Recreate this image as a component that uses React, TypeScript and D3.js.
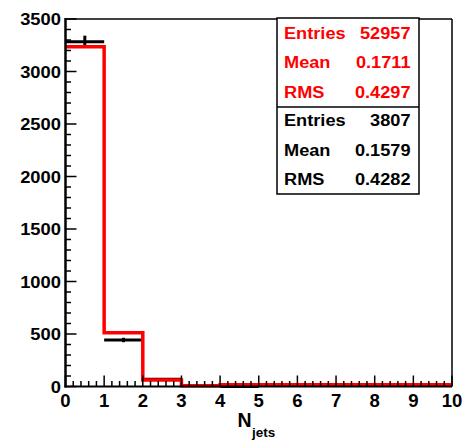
import React from "react";
import * as d3 from "d3";

const binEdges = [0, 1, 2, 3, 4, 5, 6, 7, 8, 9, 10];
const mcValues = [3236, 512, 62, 6, 0, 0, 0, 0, 0, 0];
const dataValues = [3284, 443, 70, 9, 1, 0, 0, 0, 0, 0];
const yTicks = [0, 500, 1000, 1500, 2000, 2500, 3000, 3500];
const xTicks = [0, 1, 2, 3, 4, 5, 6, 7, 8, 9, 10];
const statsRed = [["Entries", "52957"], ["Mean", "0.1711"], ["RMS", "0.4297"]];
const statsBlack = [["Entries", "3807"], ["Mean", "0.1579"], ["RMS", "0.4282"]];

const W = 462, H = 441;
const left = 65.5, right = 452, top = 19, bottom = 386.5;
const FONT = "'Liberation Sans', Arial, Helvetica, sans-serif";

function T(props: { x: number; y: number; anchor?: string; size: number; sx?: number; fill?: string; children: React.ReactNode }) {
  const { x, y, anchor = "start", size, sx = 1, fill = "black", children } = props;
  return (
    <text transform={`translate(${x},${y}) scale(${sx},1)`} textAnchor={anchor} fontFamily={FONT} fontWeight="bold" fontSize={size} fill={fill}>
      {children}
    </text>
  );
}

export default function App() {
  const x = d3.scaleLinear().domain([0, 10]).range([left, right]);
  const y = d3.scaleLinear().domain([0, 3500]).range([bottom, top]);
  const yh = (v: number) => (v === 0 ? y(0) - 1.8 : y(v));

  // step path for MC histogram
  const pts: [number, number][] = [];
  mcValues.forEach((v, i) => {
    pts.push([x(binEdges[i]), yh(v)]);
    pts.push([x(binEdges[i + 1]), yh(v)]);
  });
  const stepPath = d3.line()(pts) as string;

  const xMinor = d3.range(0, 10.001, 0.2);
  const yMinor = d3.range(0, 3500.1, 100);

  return (
    <svg width={W} height={H} style={{ position: "absolute", left: 0, top: 0, background: "white" }}>
      <rect x={0} y={0} width={W} height={H} fill="white" />
      {/* frame */}
      <line x1={left} y1={top} x2={right} y2={top} stroke="black" strokeWidth={1.5} />
      <line x1={right} y1={top} x2={right} y2={bottom} stroke="black" strokeWidth={1.5} />
      {/* data points */}
      {dataValues.map((v, i) => {
        if (v <= 0) return null;
        const cx = (x(binEdges[i]) + x(binEdges[i + 1])) / 2;
        const err = Math.sqrt(v);
        return (
          <g key={"d" + i}>
            <line x1={x(binEdges[i])} x2={x(binEdges[i + 1])} y1={y(v)} y2={y(v)} stroke="black" strokeWidth={3} />
            <line x1={cx} x2={cx} y1={y(v + err)} y2={y(v - err)} stroke="black" strokeWidth={3} />
          </g>
        );
      })}
      {/* MC histogram */}
      <path d={stepPath} fill="none" stroke="#ff0000" strokeWidth={3.5} strokeLinejoin="miter" />
      {/* y axis ticks */}
      {yMinor.map((v, i) => {
        const major = Math.round(v) % 500 === 0;
        return <line key={"ym" + i} x1={left} x2={left + (major ? 11 : 5.5)} y1={y(v)} y2={y(v)} stroke="black" strokeWidth={1.5} />;
      })}
      {yTicks.map((v) => (
        <T key={"yl" + v} x={61} y={y(v) + 6} anchor="end" size={17} sx={1.08}>{v}</T>
      ))}
      {/* x axis ticks */}
      {xMinor.map((v, i) => {
        const major = Math.abs(v - Math.round(v)) < 1e-6;
        return <line key={"xm" + i} x1={x(v)} x2={x(v)} y1={bottom} y2={bottom - (major ? 11 : 5.5)} stroke="black" strokeWidth={1.5} />;
      })}
      {xTicks.map((v) => (
        <T key={"xl" + v} x={x(v)} y={407} anchor="middle" size={18} sx={1.03}>{v}</T>
      ))}
      <line x1={left} y1={top - 1} x2={left} y2={bottom + 1} stroke="black" strokeWidth={2.5} />
      <line x1={left - 1} y1={bottom} x2={right} y2={bottom} stroke="black" strokeWidth={2} />
      {/* stats box */}
      <rect x={277} y={18} width={142} height={176} fill="white" stroke="black" strokeWidth={1.5} />
      <line x1={277} x2={419} y1={107} y2={107} stroke="black" strokeWidth={1.5} />
      {statsRed.map((r, i) => (
        <g key={"sr" + i}>
          <T x={284} y={38.5 + i * 29.5} size={17} sx={1.07} fill="#ff0000">{r[0]}</T>
          <T x={410.5} y={38.5 + i * 29.5} anchor="end" size={17} sx={1.07} fill="#ff0000">{r[1]}</T>
        </g>
      ))}
      {statsBlack.map((r, i) => (
        <g key={"sb" + i}>
          <T x={284} y={126 + i * 29.5} size={17} sx={1.07}>{r[0]}</T>
          <T x={410.5} y={126 + i * 29.5} anchor="end" size={17} sx={1.07}>{r[1]}</T>
        </g>
      ))}
      {/* axis title */}
      <T x={237.5} y={427} size={19.5}>N</T>
      <T x={252} y={437} size={13.5}>jets</T>
    </svg>
  );
}
